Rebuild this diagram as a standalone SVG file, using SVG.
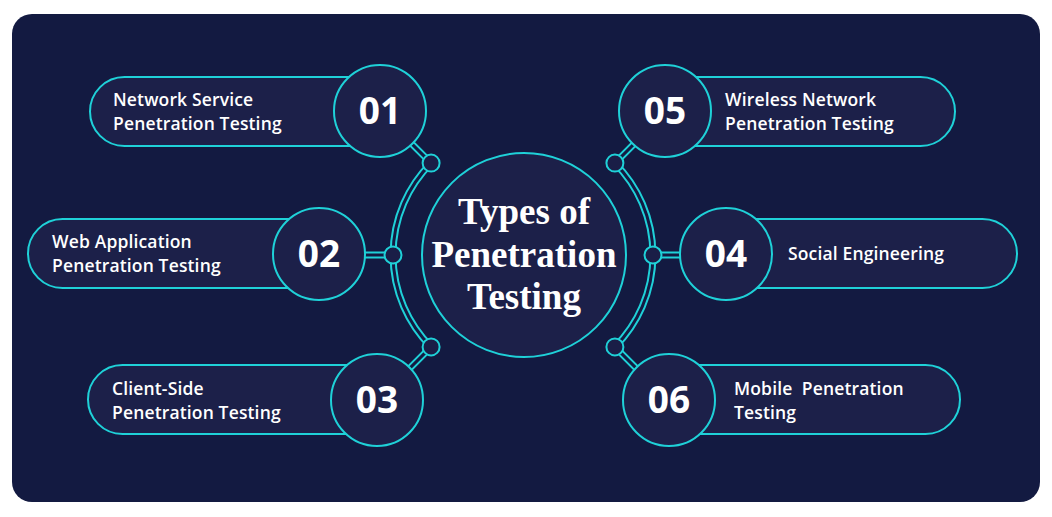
<svg xmlns="http://www.w3.org/2000/svg" width="1052" height="517" viewBox="0 0 1052 517">
<style>
.bg{fill:#131a41}
.pill{fill:#1c2049;stroke:#1fd1d8;stroke-width:2}
.num{fill:#1c2049;stroke:#1fd1d8;stroke-width:2}
.dbl{fill:none;stroke:#1fd1d8;stroke-width:7}
.dblin{fill:none;stroke:#141a42;stroke-width:3}
.jn{fill:#1a1e47;stroke:#1fd1d8;stroke-width:2}
.lbl{font-family:"Open Sans","Liberation Sans",sans-serif;font-weight:600;font-size:17.5px;letter-spacing:0.15px;fill:#ffffff;white-space:pre}
.n{font-family:"Open Sans","Liberation Sans",sans-serif;font-weight:700;font-size:37px;fill:#ffffff;text-anchor:middle}
.title{font-family:"Liberation Serif","DejaVu Serif",serif;font-weight:700;font-size:37px;fill:#ffffff;text-anchor:middle}
</style>
<rect x="0" y="0" width="1052" height="517" fill="#ffffff"/>
<rect class="bg" x="12" y="14" width="1028" height="488" rx="20"/>
<g id="connectors">
  <path class="dbl" d="M431.1 163.1 A130 130 0 0 0 431.1 346.9"/>
  <path class="dblin" d="M431.1 163.1 A130 130 0 0 0 431.1 346.9"/>
  <path class="dbl" d="M614.9 163.1 A130 130 0 0 1 614.9 346.9"/>
  <path class="dblin" d="M614.9 163.1 A130 130 0 0 1 614.9 346.9"/>
  <path class="dbl" d="M431.1 163.1 L380 112 M393 255 L320 255 M431.1 346.9 L380 398 M614.9 163.1 L666 112 M653 255 L726 255 M614.9 346.9 L666 398"/>
  <path class="dblin" d="M431.1 163.1 L380 112 M393 255 L320 255 M431.1 346.9 L380 398 M614.9 163.1 L666 112 M653 255 L726 255 M614.9 346.9 L666 398"/>
  <circle class="jn" cx="431.1" cy="163.1" r="8.5"/>
  <circle class="jn" cx="393" cy="255" r="8.5"/>
  <circle class="jn" cx="431.1" cy="346.9" r="8.5"/>
  <circle class="jn" cx="614.9" cy="163.1" r="8.5"/>
  <circle class="jn" cx="653" cy="255" r="8.5"/>
  <circle class="jn" cx="614.9" cy="346.9" r="8.5"/>
</g>
<g id="center">
  <circle class="num" cx="524" cy="255" r="102"/>
  <text class="title" x="524" y="224">Types of</text>
  <text class="title" x="524" y="267">Penetration</text>
  <text class="title" x="524" y="309">Testing</text>
</g>
<g id="node01">
  <rect class="pill" x="90" y="77" width="300" height="69" rx="34.5"/>
  <circle class="num" cx="380" cy="111" r="46"/>
  <text class="n" x="380" y="124">01</text>
  <text class="lbl" x="113" y="106">Network Service</text>
  <text class="lbl" x="113" y="130">Penetration Testing</text>
</g>
<g id="node02">
  <rect class="pill" x="28" y="219" width="300" height="69" rx="34.5"/>
  <circle class="num" cx="319" cy="254" r="46"/>
  <text class="n" x="319" y="267">02</text>
  <text class="lbl" x="52" y="248">Web Application</text>
  <text class="lbl" x="52" y="272">Penetration Testing</text>
</g>
<g id="node03">
  <rect class="pill" x="88" y="365" width="300" height="69" rx="34.5"/>
  <circle class="num" cx="377" cy="400" r="46"/>
  <text class="n" x="377" y="413">03</text>
  <text class="lbl" x="112" y="395">Client-Side</text>
  <text class="lbl" x="112" y="419">Penetration Testing</text>
</g>
<g id="node05">
  <rect class="pill" x="656" y="77" width="299" height="69" rx="34.5"/>
  <circle class="num" cx="665" cy="111" r="46"/>
  <text class="n" x="665" y="124">05</text>
  <text class="lbl" x="725" y="106">Wireless Network</text>
  <text class="lbl" x="725" y="130">Penetration Testing</text>
</g>
<g id="node04">
  <rect class="pill" x="718" y="219" width="299" height="69" rx="34.5"/>
  <circle class="num" cx="726" cy="254" r="46"/>
  <text class="n" x="726" y="267">04</text>
  <text class="lbl" x="788" y="260">Social Engineering</text>
</g>
<g id="node06">
  <rect class="pill" x="660" y="365" width="300" height="69" rx="34.5"/>
  <circle class="num" cx="669" cy="400" r="46"/>
  <text class="n" x="669" y="413">06</text>
  <text class="lbl" x="734" y="395">Mobile  Penetration</text>
  <text class="lbl" x="734" y="419">Testing</text>
</g>
</svg>
